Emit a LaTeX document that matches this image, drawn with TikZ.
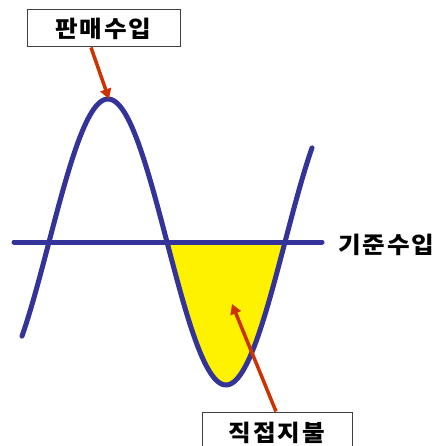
\documentclass[tikz,border=0pt]{standalone}
\usepackage{fontspec}
\newfontfamily\kr{Noto Sans CJK KR}[FakeStretch=1.07, LetterSpace=8]
\usetikzlibrary{arrows.meta}
\definecolor{wavecol}{HTML}{333399}
\definecolor{arrcol}{HTML}{CC3300}
\tikzset{
  wave/.style={draw=wavecol, line width=5pt, line cap=round},
  pointer/.style={draw=arrcol, line width=3.5pt, -{Triangle[length=10pt,width=11pt]}},
  labelbox/.style={draw=black!75, line width=1pt, fill=white, inner sep=0pt, font=\kr\bfseries\fontsize{23}{27}\selectfont},
  plain/.style={font=\kr\bfseries\fontsize{23}{27}\selectfont, inner sep=0pt}
}
\begin{document}
\begin{tikzpicture}[x=1pt,y=-1pt]
\useasboundingbox (0,0) rectangle (439,446);
% yellow area
\fill[yellow] plot[domain=167:285, samples=60] (\x,{242-143*sin(1.52542*(\x-49))}) -- cycle;
% axis
\coordinate (axl) at (14,242);
\coordinate (axr) at (322,242);
\draw[wave] (axl) -- (axr);
% wave
\draw[wave] plot[domain=22:312, samples=150, smooth] (\x,{242-143*sin(1.52542*(\x-49))});
% labels
\node[labelbox, minimum width=153pt, minimum height=37pt] (sales) at (103.5,28.5) {판매수입};
\node[plain, anchor=west] (base) at (338,245) {기준수입};
\node[labelbox, minimum width=150pt, minimum height=42pt] (direct) at (277,433) {직접지불};
% pointers
\coordinate (peak) at (109,99);
\coordinate (area) at (232,304);
\draw[pointer] ([xshift=-12.5pt]sales.south) -- (peak);
\draw[pointer] ([xshift=-1pt]direct.north) -- (area);
\end{tikzpicture}
\end{document}
